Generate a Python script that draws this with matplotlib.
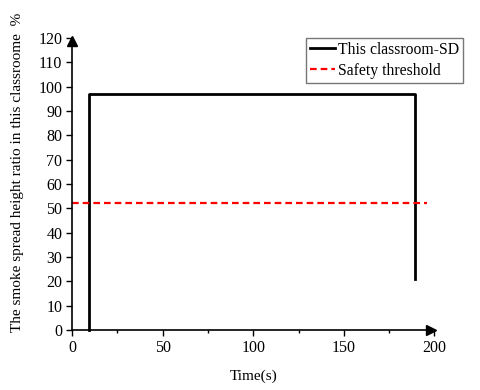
import matplotlib
matplotlib.use("Agg")
import matplotlib.pyplot as plt
from matplotlib.ticker import MultipleLocator

plt.rcParams['font.family'] = ['Liberation Serif', 'DejaVu Serif']

# Data
time_s = [9.5, 9.5, 189.5, 189.5]
ratio = [0, 97, 97, 21]
thr_x = [0, 196]
thr_y = [52, 52]
xticks = [0, 50, 100, 150, 200]
yticks = list(range(0, 121, 10))

fig = plt.figure(figsize=(4.8, 3.9), dpi=100)
ax = fig.add_axes([0.15, 0.154, 0.755, 0.749])

l1, = ax.plot(time_s, ratio, color='black', lw=2.0, label='This classroom-SD', clip_on=False)
l2, = ax.plot(thr_x, thr_y, color='red', lw=1.6, ls=(0, (3, 1.8)), label='Safety threshold', clip_on=False)

ax.set_xlim(0, 200)
ax.set_ylim(0, 120)
ax.set_xticks(xticks)
ax.set_yticks(yticks)
ax.xaxis.set_minor_locator(MultipleLocator(25))
ax.tick_params(axis='both', which='major', direction='out', length=4, width=1, labelsize=11.5, pad=3)
ax.tick_params(axis='x', which='minor', direction='out', length=2.5, width=1)
for s in ['top', 'right']:
    ax.spines[s].set_visible(False)
for s in ['left', 'bottom']:
    ax.spines[s].set_linewidth(1.2)

# arrows
ax.plot(0.99, 0, marker='>', color='black', ms=7, transform=ax.transAxes, clip_on=False)
ax.plot(0, 0.99, marker='^', color='black', ms=7, transform=ax.transAxes, clip_on=False)

ax.set_xlabel('Time(s)', fontsize=11, labelpad=10)
ax.set_ylabel('The smoke spread height ratio in this classroome  %', fontsize=11.0)
ax.yaxis.set_label_coords(-0.132, 0.538)

leg = fig.legend(handles=[l1, l2], loc='upper left', bbox_to_anchor=(306/480, 1 - 38/390),
                 frameon=True, fancybox=False, edgecolor='#555555', fontsize=11.3,
                 handlelength=1.6, handletextpad=0.2, borderpad=0.25, labelspacing=0.3,
                 borderaxespad=0)
leg.get_frame().set_linewidth(1.0)

fig.savefig('out.png', dpi=100)
